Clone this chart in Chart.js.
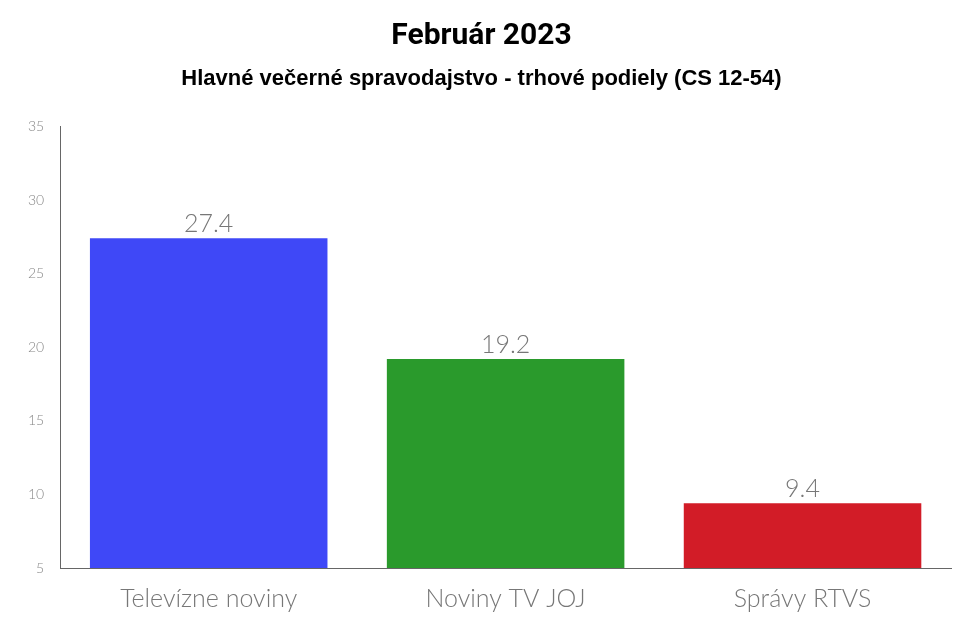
<!DOCTYPE html>
<html><head><meta charset="utf-8">
<script src="https://cdn.jsdelivr.net/npm/chart.js@4"></script>
<style>html,body{margin:0;background:#fff}#w{width:959px;height:644px}</style>
</head><body><div id="w"><canvas id="c"></canvas></div>
<script>
const categories = ["Televízne noviny", "Noviny TV JOJ", "Správy RTVS"];
const shares = [27.4, 19.2, 9.4];
const barColors = ["#3f48f7", "#2a9a2c", "#d21c27"];

const labelPlugin = {
  id: 'lbl',
  afterDatasetsDraw(chart) {
    const ctx = chart.ctx;
    const meta = chart.getDatasetMeta(0);
    ctx.save();
    ctx.font = '300 25px Lato';
    ctx.fillStyle = '#777';
    ctx.textAlign = 'center';
    ctx.textBaseline = 'bottom';
    meta.data.forEach((b, i) => ctx.fillText(String(shares[i]), b.x, b.y - 2));
    ctx.restore();
  }
};

new Chart(document.getElementById('c'), {
  type: 'bar',
  data: { labels: categories, datasets: [{ data: shares, backgroundColor: barColors, barPercentage: 0.8, categoryPercentage: 1 }] },
  options: {
    responsive: true, maintainAspectRatio: false, animation: false,
    layout: { padding: { left: 12, right: 8, top: 14, bottom: 14 } },
    plugins: {
      legend: { display: false }, tooltip: { enabled: false },
      title: { display: true, text: 'Február 2023', color: '#000', font: { family: 'Roboto', size: 30, weight: 'bold' }, padding: { top: 4, bottom: 12 } },
      subtitle: { display: true, text: 'Hlavné večerné spravodajstvo - trhové podiely (CS 12-54)', color: '#000', font: { family: 'Liberation Sans', size: 22, weight: 'bold' }, padding: { bottom: 34 } }
    },
    scales: {
      y: { min: 5, max: 35, ticks: { stepSize: 5, color: '#888', font: { family: 'Lato', size: 14, weight: 300 }, padding: 16 },
           grid: { display: false, drawTicks: false }, border: { color: '#666', width: 1 } },
      x: { ticks: { color: '#777', font: { family: 'Lato', size: 25, weight: 300 }, padding: 16 },
           grid: { display: false, drawTicks: false }, border: { color: '#666', width: 1 } }
    }
  },
  plugins: [labelPlugin]
});
</script></body></html>
